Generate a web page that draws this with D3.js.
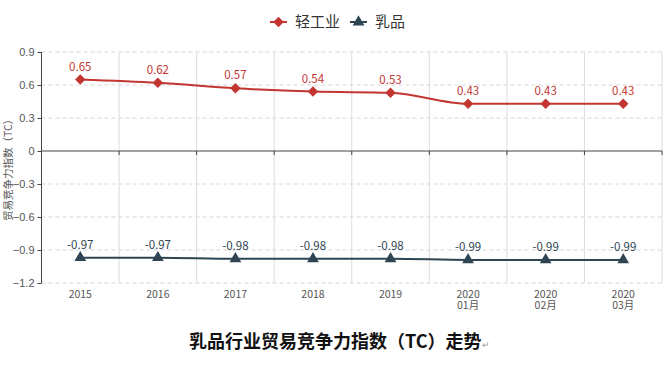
<!DOCTYPE html>
<html>
<head>
<meta charset="utf-8">
<script src="https://cdn.jsdelivr.net/npm/d3@7"></script>
<style>
    body { margin: 0; background: #fff; }
    svg { display: block; font-family: "Noto Sans CJK SC", "Noto Sans", sans-serif; }
</style>
</head>
<body>
<script>
const WIDTH = 669;
const HEIGHT = 368;
const MARGIN = { top: 52, right: 7, bottom: 85, left: 41.5 };

// Chart data
const categories = ["2015", "2016", "2017", "2018", "2019", "2020\n01月", "2020\n02月", "2020\n03月"];
const lightIndustry = [0.65, 0.62, 0.57, 0.54, 0.53, 0.43, 0.43, 0.43];
const dairy = [-0.97, -0.97, -0.98, -0.98, -0.98, -0.99, -0.99, -0.99];
const yTicks = [0.9, 0.6, 0.3, 0, -0.3, -0.6, -0.9, -1.2];

const series = [
    { name: "轻工业", values: lightIndustry, color: "#c23531", symbol: d3.symbolDiamond2, size: 70 },
    { name: "乳品", values: dairy, color: "#2f4554", symbol: d3.symbolTriangle, size: 60 }
];

const svg = d3.select("body").append("svg")
    .attr("width", WIDTH)
    .attr("height", HEIGHT);

const x = d3.scaleBand()
    .domain(categories)
    .range([MARGIN.left, WIDTH - MARGIN.right]);

const y = d3.scaleLinear()
    .domain([-1.2, 0.9])
    .range([HEIGHT - MARGIN.bottom, MARGIN.top]);

const cx = d => x(d) + x.bandwidth() / 2;

// Horizontal dashed grid
svg.append("g").selectAll("line")
    .data(yTicks.filter(t => t !== 0))
    .join("line")
    .attr("x1", MARGIN.left).attr("x2", WIDTH - MARGIN.right)
    .attr("y1", d => y(d)).attr("y2", d => y(d))
    .attr("stroke", "#d6d6d6")
    .attr("stroke-dasharray", "4,3");

// Vertical split lines at band edges
const edges = categories.slice(1).map(c => x(c)).concat([WIDTH - MARGIN.right]);
svg.append("g").selectAll("line")
    .data(edges)
    .join("line")
    .attr("x1", d => d).attr("x2", d => d)
    .attr("y1", y(0.9)).attr("y2", y(-1.2))
    .attr("stroke", "#dcdcdc");

// Y axis
const yAxis = svg.append("g")
    .attr("transform", `translate(${MARGIN.left},0)`)
    .call(d3.axisLeft(y).tickValues(yTicks).tickSize(4).tickPadding(3).tickFormat(d3.format("")));
yAxis.select(".domain").attr("stroke", "#444").attr("d", `M0,${y(0.9)}V${y(-1.2)}`);
yAxis.selectAll(".tick line").attr("stroke", "#444");
yAxis.selectAll(".tick text")
    .attr("fill", "#555")
    .style("font-size", "11px")
    .text(d => d === 0 ? "0" : d3.format(".1f")(d));

// Zero axis line with ticks at band edges
const zeroAxis = svg.append("g");
zeroAxis.append("line")
    .attr("x1", MARGIN.left).attr("x2", WIDTH - MARGIN.right)
    .attr("y1", y(0)).attr("y2", y(0))
    .attr("stroke", "#444");
zeroAxis.selectAll(".tk")
    .data(edges)
    .join("line")
    .attr("class", "tk")
    .attr("x1", d => d).attr("x2", d => d)
    .attr("y1", y(0)).attr("y2", y(0) + 4)
    .attr("stroke", "#444");

// Category labels under the grid
const xLabels = svg.append("g").selectAll("text")
    .data(categories)
    .join("text")
    .attr("x", d => cx(d))
    .attr("y", y(-1.2) + 15)
    .attr("text-anchor", "middle")
    .attr("fill", "#555")
    .style("font-size", "10.5px");
xLabels.each(function (d) {
    d3.select(this).selectAll("tspan")
        .data(d.split("\n"))
        .join("tspan")
        .attr("x", cx(d))
        .attr("dy", (t, i) => i === 0 ? 0 : 11)
        .text(t => t);
});

// Y axis title
svg.append("text")
    .attr("transform", `translate(12,${(y(0.9) + y(-1.2)) / 2}) rotate(-90)`)
    .attr("text-anchor", "middle")
    .attr("fill", "#555")
    .style("font-size", "10.5px")
    .text("贸易竞争力指数（TC）");

// Series lines, markers and labels
const line = d3.line()
    .x((v, i) => cx(categories[i]))
    .y(v => y(v))
    .curve(d3.curveMonotoneX);

series.forEach(s => {
    const g = svg.append("g");
    g.append("path")
        .attr("d", line(s.values))
        .attr("fill", "none")
        .attr("stroke", s.color)
        .attr("stroke-width", 2);
    g.selectAll("path.mk")
        .data(s.values)
        .join("path")
        .attr("class", "mk")
        .attr("transform", (v, i) => `translate(${cx(categories[i])},${y(v)})`)
        .attr("d", d3.symbol().type(s.symbol).size(s.size))
        .attr("fill", s.color);
    g.selectAll("text")
        .data(s.values)
        .join("text")
        .attr("x", (v, i) => cx(categories[i]))
        .attr("y", v => y(v) - 9)
        .attr("text-anchor", "middle")
        .attr("fill", s.color)
        .style("font-size", "11.5px")
        .text(v => v);
});

// Legend
const legendItems = [
    { x: 270, textX: 295 },
    { x: 350, textX: 375 }
];
series.forEach((s, i) => {
    const lg = svg.append("g").attr("transform", `translate(${legendItems[i].x},22)`);
    lg.append("line").attr("x1", 0).attr("x2", 17).attr("stroke", s.color).attr("stroke-width", 2);
    lg.append("path")
        .attr("transform", "translate(8.5,0)")
        .attr("d", d3.symbol().type(s.symbol).size(s.size))
        .attr("fill", s.color);
    svg.append("text")
        .attr("x", legendItems[i].textX)
        .attr("y", 27)
        .attr("fill", "#333")
        .style("font-size", "15px")
        .text(s.name);
});

// Caption below the chart
const caption = svg.append("text")
    .attr("x", 189)
    .attr("y", 348)
    .attr("fill", "#111")
    .style("font-size", "18px")
    .style("font-weight", "bold")
    .style("font-family", "'Noto Sans CJK SC', sans-serif");
caption.append("tspan").text("乳品行业贸易竞争力指数（TC）走势");
caption.append("tspan").attr("fill", "#999").style("font-size", "9px").style("font-weight", "normal").text("↵");
</script>
</body>
</html>
